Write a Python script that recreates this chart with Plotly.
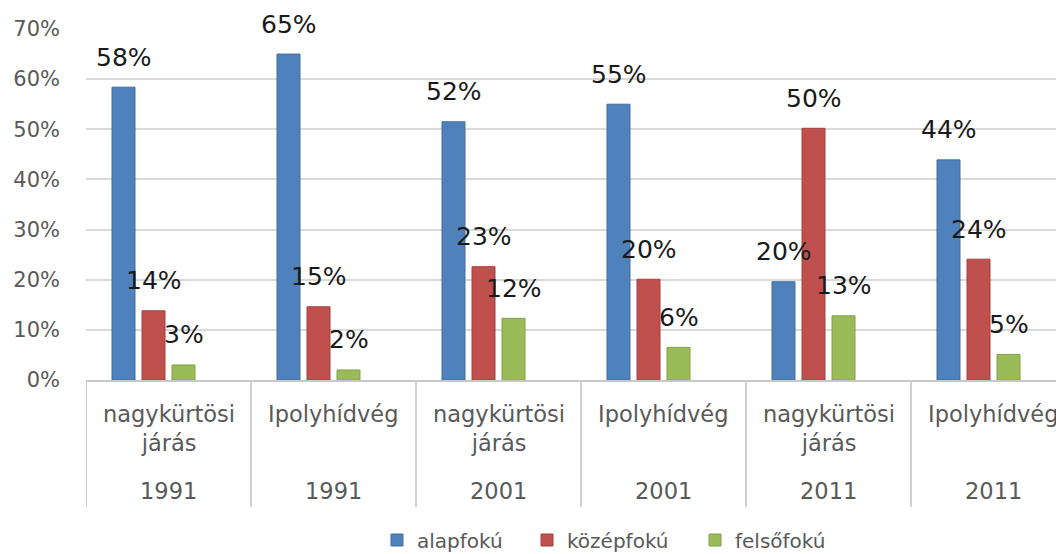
import plotly.graph_objects as go

regions = ["nagykürtösi<br>járás", "Ipolyhídvég", "nagykürtösi<br>járás", "Ipolyhídvég", "nagykürtösi<br>járás", "Ipolyhídvég"]
years = ["1991", "1991", "2001", "2001", "2011", "2011"]
series_names = ["alapfokú", "középfokú", "felsőfokú"]
alapfoku = [0.584, 0.650, 0.515, 0.550, 0.196, 0.439]
kozepfoku = [0.138, 0.146, 0.226, 0.201, 0.502, 0.241]
felsofoku = [0.030, 0.020, 0.123, 0.065, 0.128, 0.051]
y_ticks = [0, 0.1, 0.2, 0.3, 0.4, 0.5, 0.6, 0.7]

colors = ["#4F81BD", "#C0504D", "#9BBB59"]
edges = ["#41719C", "#A5403D", "#82A04A"]
series = [alapfoku, kozepfoku, felsofoku]

# the page body has an 8px margin, so the figure origin sits at (8, 8)
OFF = 8
W, H = 1064 - OFF, 554 - OFF
L, T, B = 86 - OFF, 29 - OFF, 380 - OFF
cat_px = 165.0
bar_w = 23.0 / cat_px
centers = [-45.0 / cat_px, -15.0 / cat_px, 15.0 / cat_px]
plot_w = W - L
plot_h = B - T

legend_centres = [397 - OFF, 547 - OFF, 715 - OFF]
legend_keys = ["legend", "legend2", "legend3"]

xs = list(range(len(years)))
fig = go.Figure()
for k, (name, vals) in enumerate(zip(series_names, series)):
    fig.add_trace(go.Bar(
        x=xs, y=vals, name=name,
        width=bar_w, offset=centers[k] - bar_w / 2,
        marker=dict(color=colors[k], line=dict(color=edges[k], width=1)),
        hoverinfo="name+y",
        legend=legend_keys[k],
    ))

annotations = []
for k, vals in enumerate(series):
    for i, v in enumerate(vals):
        annotations.append(dict(
            x=i + centers[k], y=v, xref="x", yref="y",
            text=f"{round(v * 100):.0f}%", showarrow=False,
            yanchor="middle", yshift=30,
            font=dict(family="DejaVu Sans", size=25, color="#1a1a1a"),
        ))

for i, (r, yr) in enumerate(zip(regions, years)):
    annotations.append(dict(
        x=i, y=0, xref="x", yref="paper", text=r, showarrow=False,
        yanchor="top", yshift=-19, align="center",
        font=dict(family="DejaVu Sans", size=22.5, color="#595959"),
    ))
    annotations.append(dict(
        x=i, y=0, xref="x", yref="paper", text=yr, showarrow=False,
        yanchor="middle", yshift=-111,
        font=dict(family="DejaVu Sans", size=22.5, color="#595959"),
    ))

shapes = []
div_bottom = -(507 - 380) / plot_h
for k in range(len(years) + 1):
    shapes.append(dict(
        type="line", xref="x", yref="paper",
        x0=k - 0.5, x1=k - 0.5, y0=0, y1=div_bottom,
        line=dict(color="#D0D0D0", width=2),
    ))

x_end = -0.5 + plot_w / cat_px

legend_common = dict(
    orientation="h", xanchor="left",
    y=-(540 - 380) / plot_h, yanchor="middle",
    font=dict(family="DejaVu Sans", size=20, color="#595959"),
    bgcolor="rgba(0,0,0,0)", borderwidth=0,
)
legends = {}
for key, c in zip(legend_keys, legend_centres):
    legends[key] = dict(legend_common, x=(c - 20 - L) / plot_w)

fig.update_layout(
    width=W, height=H,
    margin=dict(l=L, r=0, t=T, b=H - B, pad=0, autoexpand=False),
    paper_bgcolor="white", plot_bgcolor="white",
    barmode="overlay",
    showlegend=True,
    xaxis=dict(
        range=[-0.5, x_end], showticklabels=False, ticks="",
        showgrid=False, zeroline=False, automargin=False,
        showline=True, linecolor="#C8C8C8", linewidth=2,
    ),
    yaxis=dict(
        range=[0, 0.7], tickvals=y_ticks, tickformat=".0%",
        showgrid=True, gridcolor="#D9D9D9", gridwidth=2,
        zeroline=False, showline=False, ticks="", automargin=False,
        ticklabelstandoff=25,
        tickfont=dict(family="DejaVu Sans", size=21, color="#595959"),
    ),
    annotations=annotations,
    shapes=shapes,
    **legends,
)

fig.write_html("out.html")
